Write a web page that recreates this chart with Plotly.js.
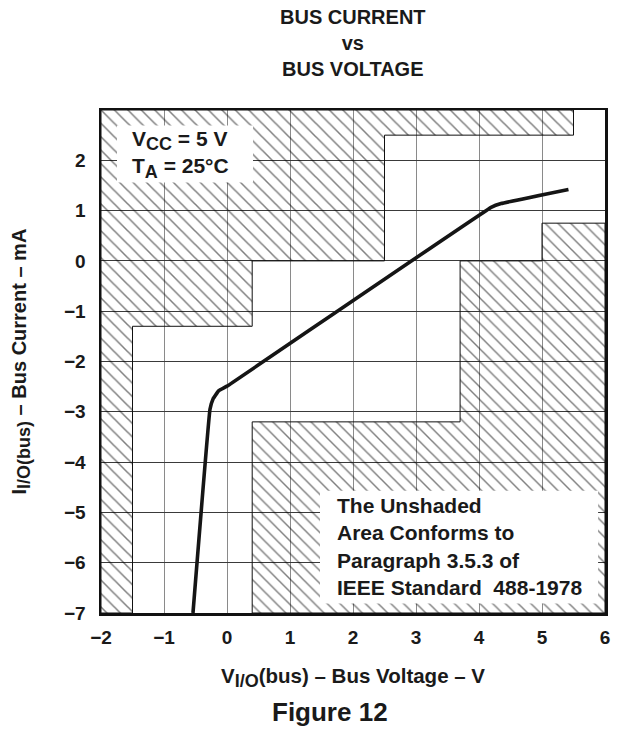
<!DOCTYPE html>
<html>
<head>
<meta charset="utf-8">
<script src="https://cdn.plot.ly/plotly-3.0.1.min.js"></script>
<style>
  html, body { margin: 0; padding: 0; background: #fff; }
  #chart { width: 621px; height: 731px; }
</style>
</head>
<body>
<div id="chart"></div>
<script>
// ---- data ----
const xTickVals = [-2, -1, 0, 1, 2, 3, 4, 5, 6];
const yTickVals = [-7, -6, -5, -4, -3, -2, -1, 0, 1, 2];

// measured bus current curve
const curveV = [-0.54, -0.27, -0.22, -0.13, 0.0, 4.2, 4.35, 5.42];
const curveI = [-7.0, -2.95, -2.74, -2.58, -2.49, 1.07, 1.14, 1.42];

// shaded (non-conforming) area, upper-left block
const upperShadeV = [-2, -2, 5.5, 5.5, 2.5, 2.5, 0.4, 0.4, -1.5, -1.5, -2];
const upperShadeI = [-7, 3, 3, 2.5, 2.5, 0, 0, -1.3, -1.3, -7, -7];

// shaded (non-conforming) area, lower-right block
const lowerShadeV = [0.4, 0.4, 3.7, 3.7, 5, 5, 6, 6, 0.4];
const lowerShadeI = [-7, -3.2, -3.2, 0, 0, 0.75, 0.75, -7, -7];

// white label panels (axis units)
const condBox = { x0: -1.746, x1: 0.413, y0: 1.56, y1: 2.69 };
const noteBox = { x0: 1.476, x1: 5.89, y0: -6.81, y1: -4.57 };

const FONT = 'Liberation Sans, Arial, Helvetica, sans-serif';
const INK = '#1a1a1a';

function hatch(xs, ys, size) {
  return {
    x: xs, y: ys, type: 'scatter', mode: 'lines',
    fill: 'toself',
    fillcolor: 'rgba(0,0,0,0)',
    fillpattern: { shape: '\\', size: size, solidity: 0.16, fgcolor: '#000', bgcolor: 'rgba(0,0,0,0)', fillmode: 'overlay' },
    line: { color: '#111', width: 1 },
    hoverinfo: 'skip', showlegend: false
  };
}

const traces = [
  hatch(upperShadeV, upperShadeI, 9.5),
  hatch(lowerShadeV, lowerShadeI, 9),
  {
    x: curveV, y: curveI, type: 'scatter', mode: 'lines',
    line: { color: '#151515', width: 3.6, shape: 'spline', smoothing: 0.25 },
    showlegend: false, hoverinfo: 'skip'
  }
];

function panel(b) {
  return { type: 'rect', xref: 'x', yref: 'y', x0: b.x0, x1: b.x1, y0: b.y0, y1: b.y1,
           fillcolor: '#fff', line: { width: 0 }, layer: 'above' };
}

const layout = {
  width: 621, height: 731,
  margin: { l: 101, r: 16, t: 110, b: 118 },
  paper_bgcolor: '#fff', plot_bgcolor: '#fff',
  showlegend: false,
  xaxis: {
    range: [-2, 6], tickvals: xTickVals,
    showgrid: true, gridcolor: '#8a8a8a', gridwidth: 1,
    zeroline: false,
    showline: true, mirror: true, linecolor: '#111', linewidth: 2.5,
    ticks: '', ticklabelstandoff: 6,
    tickfont: { family: FONT, size: 19, weight: 'bold', color: INK },
    fixedrange: true
  },
  yaxis: {
    range: [-7, 3], tickvals: yTickVals,
    showgrid: true, gridcolor: '#3a3a3a', gridwidth: 1,
    zeroline: false,
    showline: true, mirror: true, linecolor: '#111', linewidth: 2.5,
    ticks: '', ticklabelstandoff: 9,
    tickfont: { family: FONT, size: 19, weight: 'bold', color: INK },
    fixedrange: true
  },
  shapes: [panel(condBox), panel(noteBox)],
  annotations: [
    {
      xref: 'paper', yref: 'paper', x: 0.5, y: 1, xanchor: 'center', yanchor: 'bottom', yshift: 28,
      text: 'BUS CURRENT<br>vs<br>BUS VOLTAGE', showarrow: false, align: 'center',
      font: { family: FONT, size: 20, weight: 'bold', color: INK }
    },
    {
      xref: 'x', yref: 'y', x: -1.54, y: 2.12, xanchor: 'left', yanchor: 'middle',
      text: 'V<sub><span style="font-size:18px">CC</span></sub> = 5 V<br>T<sub><span style="font-size:18px">A</span></sub> = 25°C', align: 'left',
      showarrow: false,
      font: { family: FONT, size: 21, weight: 'bold', color: INK }
    },
    {
      xref: 'x', yref: 'y', x: 1.714, y: -5.68, xanchor: 'left', yanchor: 'middle',
      text: 'The Unshaded<br>Area Conforms to<br>Paragraph 3.5.3 of<br>IEEE Standard&nbsp;&nbsp;488-1978', align: 'left',
      showarrow: false,
      font: { family: FONT, size: 21, weight: 'bold', color: INK }
    },
    {
      xref: 'paper', yref: 'paper', x: 0.5, y: 0, xanchor: 'center', yanchor: 'middle', yshift: -64,
      text: 'V<sub><span style="font-size:18px">I/O</span></sub>(bus) – Bus Voltage – V', showarrow: false,
      font: { family: FONT, size: 20.5, weight: 'bold', color: INK }
    },
    {
      xref: 'paper', yref: 'paper', x: 0.455, y: 0, xanchor: 'center', yanchor: 'middle', yshift: -99,
      text: 'Figure 12', showarrow: false,
      font: { family: FONT, size: 26, weight: 'bold', color: INK }
    },
    {
      xref: 'paper', yref: 'paper', x: 0, y: 0.5, xanchor: 'center', yanchor: 'middle', xshift: -81,
      text: 'I<sub><span style="font-size:18px">I/O(bus)</span></sub> – Bus Current – mA', showarrow: false, textangle: -90,
      font: { family: FONT, size: 20, weight: 'bold', color: INK }
    }
  ]
};

Plotly.newPlot('chart', traces, layout, { displayModeBar: false, staticPlot: true });
</script>
</body>
</html>
